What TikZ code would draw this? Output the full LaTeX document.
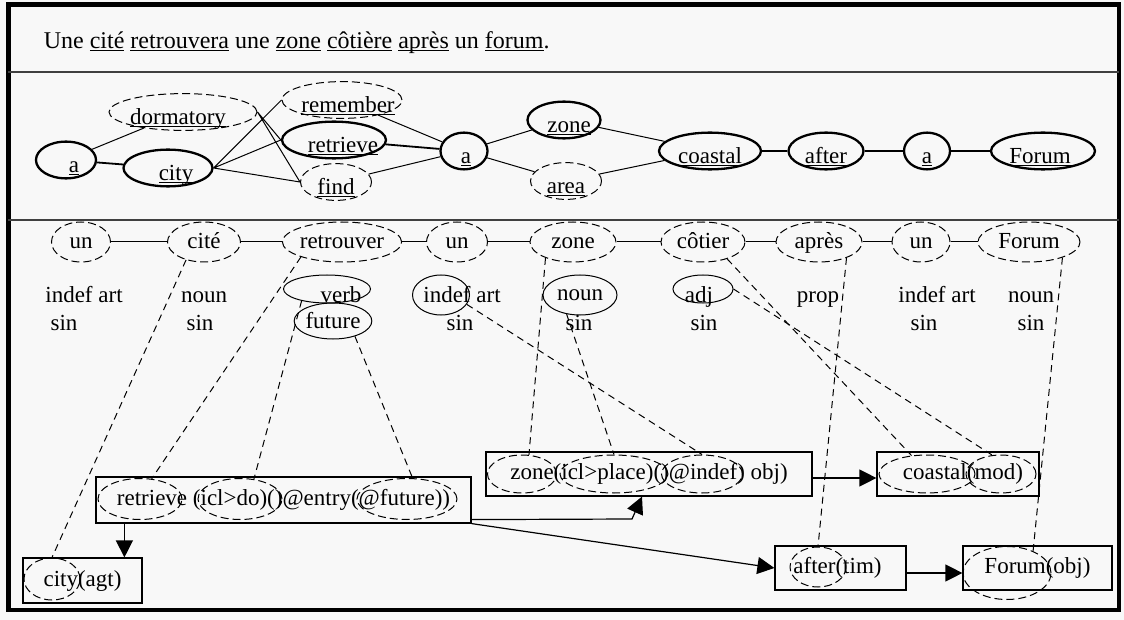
\documentclass[tikz,border=0pt]{standalone}
\usepackage{fontspec}
\setmainfont{Liberation Serif}
\usetikzlibrary{shapes.geometric,arrows.meta}
\definecolor{paper}{RGB}{248,248,248}
\newcommand\ul[2][0pt]{\makebox[0pt]{\hspace*{#1}\underline{\smash{#2}}}}
\begin{document}
\begin{tikzpicture}[x=1pt, y=-1pt, line width=1pt,
      every node/.style={font=\fontsize{23}{27}\selectfont},
      tnode/.style={ellipse, draw, inner sep=0pt, text height=26pt, text depth=-10pt},
      heavy/.style={tnode, line width=2.3pt},
      light/.style={tnode, dash pattern=on 8pt off 4pt},
      word/.style={ellipse, draw, dash pattern=on 8pt off 4pt, inner sep=0pt, minimum height=40pt, text height=13pt, text depth=0pt},
      feat/.style={ellipse, draw, inner sep=0pt},
      unl/.style={ellipse, draw, dash pattern=on 8pt off 4pt, inner sep=0pt},
      box/.style={rectangle, draw, inner sep=0pt, line width=1.2pt},
      link/.style={dash pattern=on 7pt off 5pt},
      arr/.style={-{Triangle[length=17pt,width=17pt]}, line width=1.2pt}]
            \useasboundingbox (0,0) rectangle (1124,620);
            \fill[paper] (0,0) rectangle (1124,620);
            \draw[line width=4.5pt] (8.5,4.5) rectangle (1119,610);
            \draw[line width=1.5pt, black!75] (8,72) -- (1119,72);
            \draw[line width=1.5pt, black!75] (8,220) -- (1119,220);
            \node[anchor=base west, font=\fontsize{24}{28}\selectfont] (sent) at (40,49) {Une \underline{\smash{cité}} \underline{\smash{retrouvera}} une \underline{\smash{zone}} \underline{\smash{côtière}} \underline{\smash{après}} un \underline{\smash{forum}}.};

            \node[heavy, minimum width=60pt, minimum height=34pt] (aA) at (66,160) {\ul[16pt]{a}};
            \node[light, minimum width=148pt, minimum height=35pt] (dorm) at (183,112) {\ul[-10pt]{dormatory}};
            \node[heavy, minimum width=89pt, minimum height=32pt] (city) at (168,168) {\ul[16pt]{city}};
            \node[light, minimum width=120pt, minimum height=29pt] (rem) at (342,100) {\ul[12pt]{remember}};
            \node[heavy, minimum width=104pt, minimum height=30pt] (retr) at (334,140) {\ul[18pt]{retrieve}};
            \node[light, minimum width=71pt, minimum height=30pt] (find) at (336,182) {\ul{find}};
            \node[heavy, minimum width=47pt, minimum height=35pt] (aB) at (464,151) {\ul[4pt]{a}};
            \node[heavy, minimum width=73pt, minimum height=34pt] (zone) at (564,120) {\ul[10pt]{zone}};
            \node[light, minimum width=71pt, minimum height=28pt] (area) at (566,181) {\ul{area}};
            \node[heavy, minimum width=102pt, minimum height=32pt] (coast) at (710,151) {\ul{coastal}};
            \node[heavy, minimum width=75pt, minimum height=32pt] (after) at (826,151) {\ul{after}};
            \node[heavy, minimum width=46pt, minimum height=32pt] (aC) at (927,151) {\ul{a}};
            \node[heavy, minimum width=104pt, minimum height=32pt] (forum) at (1043,151) {\ul[-6pt]{Forum}};
            \draw (aA) -- (dorm);
            \draw[line width=1.8pt] (aA) -- (city);
            \draw (dorm.east) -- (retr.west) (dorm.east) -- (find.west);
            \draw (city.east) -- (rem.west) (city.east) -- (retr.west) (city.east) -- (find.west);
            \draw (rem) -- (aB) (find) -- (aB);
            \draw[line width=1.8pt] (retr) -- (aB);
            \draw (aB) -- (zone) (aB) -- (area) (zone) -- (coast) (area) -- (coast);
            \draw[line width=1.4pt] (coast) -- (after) -- (aC) -- (forum);

            \node[word, minimum width=59pt] (unA) at (81,242) {un};
            \node[word, minimum width=73pt] (cite) at (204,242) {cité};
            \node[word, minimum width=116pt] (retrouver) at (342,242) {retrouver};
            \node[word, minimum width=61pt] (unB) at (457,242) {un};
            \node[word, minimum width=86pt] (zoneW) at (573,242) {zone};
            \node[word, minimum width=84pt] (cotier) at (703,242) {côtier};
            \node[word, minimum width=86pt] (apres) at (819,242) {après};
            \node[word, minimum width=58pt] (unC) at (921,242) {un};
            \node[word, minimum width=102pt] (forumW) at (1029,242) {Forum};
            \draw (unA) -- (cite) -- (retrouver) -- (unB) -- (zoneW) -- (cotier) -- (apres) -- (unC) -- (forumW);

            \node[feat, minimum width=87pt, minimum height=28pt] (verbE) at (327,289) {};
            \node[feat, minimum width=70pt, minimum height=36pt] (futE) at (333,321) {future};
            \node[feat, minimum width=57pt, minimum height=40pt] (indefE) at (441,295) {};
            \node[feat, minimum width=74pt, minimum height=40pt] (nounE) at (580,295) {noun};
            \node[feat, minimum width=60pt, minimum height=28pt] (adjE) at (703,289) {};
            \node[anchor=base] (catA) at (84,302) {indef art};
            \node[anchor=base] (catB) at (204,302) {noun};
            \node[anchor=base] (catC) at (341,302) {verb};
            \node[anchor=base] (catD) at (462,302) {indef art};
            \node[anchor=base] (catF) at (699,302) {adj};
            \node[anchor=base] (catG) at (818,302) {prop};
            \node[anchor=base] (catH) at (937,302) {indef art};
            \node[anchor=base] (catI) at (1031,302) {noun};
            \foreach \x/\n in {64/numA, 200/numB, 460/numD, 579/numE, 704/numF, 924/numH, 1031/numI}
                    \node[anchor=base] (\n) at (\x,330) {sin};

            \node[box, minimum width=375pt, minimum height=46pt] (rbox) at (283.5,500) {retrieve (icl>do)()@entry(@future))};
            \node[unl, minimum width=84pt, minimum height=41pt] (rA) at (140,499) {};
            \node[unl, minimum width=84pt, minimum height=41pt] (rB) at (240,499) {};
            \node[unl, minimum width=100pt, minimum height=41pt] (rC) at (407,499) {};
            \node[box, minimum width=119pt, minimum height=45pt] (cbox) at (82.5,580.5) {city(agt)};
            \node[unl, minimum width=56pt, minimum height=42pt] (cA) at (52,579) {};
            \node[box, minimum width=326pt, minimum height=44pt] (zbox) at (649,474) {zone(icl>place)()@indef) obj)};
            \node[unl, minimum width=69pt, minimum height=38pt] (zA) at (522,474) {};
            \node[unl, minimum width=108pt, minimum height=38pt] (zB) at (614,474) {};
            \node[unl, minimum width=81pt, minimum height=38pt] (zC) at (702,474) {};
            \node[box, minimum width=162pt, minimum height=44pt] (kbox) at (958,474) {\hspace*{10pt}coastal(mod)};
            \node[unl, minimum width=96pt, minimum height=38pt] (kA) at (927,474) {};
            \node[unl, minimum width=70pt, minimum height=38pt] (kB) at (1001,474) {};
            \node[box, minimum width=131pt, minimum height=44pt] (abox) at (840.5,568) {after(tim)\hspace*{6pt}};
            \node[unl, minimum width=56pt, minimum height=40pt] (aE) at (818,567) {};
            \node[box, minimum width=149pt, minimum height=44pt] (gbox) at (1037.5,568) {Forum(obj)};
            \node[unl, minimum width=88pt, minimum height=53pt] (gA) at (1007,573) {};

            \coordinate (knee) at (632,519);
            \draw[arr] ([xshift=29pt]rbox.south west) -- ([xshift=29pt]rbox.south west |- cbox.north);
            \draw[arr] ([yshift=4pt]rbox.south east) -- (knee) -- ([xshift=-7pt]zbox.south);
            \draw[arr] (rbox.south east) -- (abox.west);
            \draw[arr] ([yshift=-4pt]zbox.east) -- ([yshift=-4pt]kbox.west);
            \draw[arr] ([yshift=-5pt]abox.east) -- ([yshift=-5pt]gbox.west);

            \draw[link] (cite.225) -- (cA.north);
            \draw[link] (retrouver.200) -- (rA.60);
            \draw[link] (verbE.205) -- (rB.55);
            \draw[link] (futE.325) -- (rC.75);
            \draw[link] (indefE.340) -- (zC.north);
            \draw[link] (zoneW.210) -- (zA.70);
            \draw[link] (nounE.235) -- (zB.north);
            \draw[link] (cotier.325) -- (kA.130);
            \draw[link] (adjE.east) -- (kB.115);
            \draw[link] (apres.330) -- (aE.north);
            \draw[link] (forumW.335) -- (gA.40);
      \end{tikzpicture}
\end{document}
